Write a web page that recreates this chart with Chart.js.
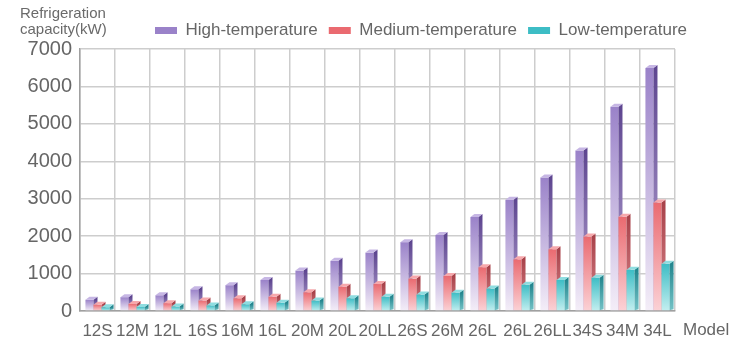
<!DOCTYPE html>
<html>
<head>
<meta charset="utf-8">
<script src="https://cdn.jsdelivr.net/npm/chart.js@4.4.0/dist/chart.umd.min.js"></script>
<style>
  html, body { margin: 0; padding: 0; background: #fff; }
  #wrap { width: 729px; height: 342px; }
</style>
</head>
<body>
<div id="wrap"><canvas id="mycanvas"></canvas></div>
<script>
// chart data
var models = ['12S', '12M', '12L', '16S', '16M', '16L', '20M', '20L', '20LL', '26S', '26M', '26L', '26L', '26LL', '34S', '34M', '34L'];
var highTemp = [300, 370, 420, 580, 690, 830, 1080, 1340, 1560, 1840, 2030, 2510, 2970, 3570, 4290, 5460, 6490];
var mediumTemp = [170, 190, 210, 280, 340, 380, 500, 650, 720, 865, 935, 1170, 1380, 1650, 1990, 2520, 2900];
var lowTemp = [100, 110, 120, 150, 180, 220, 280, 340, 380, 440, 490, 600, 700, 830, 890, 1100, 1260];
var seriesNames = ['High-temperature', 'Medium-temperature', 'Low-temperature'];

var topColors = ['#9a82c9', '#ea6a70', '#3dbdc5'];
var bottomColors = ['#f4eef8', '#fbd2d6', '#c4eff0'];
var sideTop = ['#5e4690', '#a8424a', '#23868e'];
var sideBottom = ['#b9a8d6', '#d9868c', '#74c2c6'];
var capColors = ['#c6b6e4', '#f6a8ac', '#8fdde0'];

var fontFamily = '"Liberation Sans", Arial, sans-serif';
Chart.defaults.font.family = fontFamily;

function frontFill(i) {
  return function(ctx) {
    var chart = ctx.chart;
    if (ctx.type !== 'data' || !chart.chartArea) return topColors[i];
    var y = chart.scales.y;
    var top = y.getPixelForValue(ctx.raw);
    var base = y.getPixelForValue(0);
    var g = chart.ctx.createLinearGradient(0, top, 0, base);
    g.addColorStop(0, topColors[i]);
    g.addColorStop(1, bottomColors[i]);
    return g;
  };
}

// draws the bars in index order with a small side face and top cap
var bars3d = {
  id: 'bars3d',
  beforeDatasetDraw: function() {
    return false;
  },
  afterDatasetsDraw: function(chart) {
    var ctx = chart.ctx;
    var area = chart.chartArea;
    var d = 4, dy = 3;
    ctx.save();
    for (var i = 0; i < chart.data.datasets.length; i++) {
      var meta = chart.getDatasetMeta(i);
      meta.data.forEach(function(bar) {
        var p = bar.getProps(['x', 'y', 'base', 'width'], true);
        var left = p.x - p.width / 2;
        var right = p.x + p.width / 2;
        bar.draw(ctx, area);

        var g = ctx.createLinearGradient(0, p.y, 0, p.base);
        g.addColorStop(0, sideTop[i]);
        g.addColorStop(1, sideBottom[i]);
        ctx.fillStyle = g;
        ctx.beginPath();
        ctx.moveTo(right, p.y);
        ctx.lineTo(right + d, p.y - dy);
        ctx.lineTo(right + d, p.base - 1);
        ctx.lineTo(right, p.base);
        ctx.closePath();
        ctx.fill();

        ctx.fillStyle = capColors[i];
        ctx.beginPath();
        ctx.moveTo(left, p.y);
        ctx.lineTo(left + d, p.y - dy);
        ctx.lineTo(right + d, p.y - dy);
        ctx.lineTo(right, p.y);
        ctx.closePath();
        ctx.fill();
      });
    }
    ctx.restore();
  }
};

var extraText = {
  id: 'extraText',
  afterLayout: function(chart) {
    var lg = chart.legend;
    if (lg && lg.lineWidths) {
      var w = lg.right - lg.left;
      lg.right = 155 + lg.lineWidths[0];
      lg.left = lg.right - w;
    }
  },
  afterDraw: function(chart) {
    var ctx = chart.ctx;
    ctx.save();
    ctx.fillStyle = '#6a6a6a';
    ctx.textBaseline = 'alphabetic';
    ctx.textAlign = 'left';
    ctx.font = '15px ' + fontFamily;
    ctx.fillText('Refrigeration', 20, 18);
    ctx.fillText('capacity(kW)', 20, 34);
    ctx.font = '17px ' + fontFamily;
    ctx.fillStyle = '#666';
    ctx.fillText('Model', 683, 335);
    ctx.restore();
  }
};

var datasets = [highTemp, mediumTemp, lowTemp].map(function(values, i) {
  return {
    label: seriesNames[i],
    data: values,
    backgroundColor: frontFill(i),
    borderWidth: 0,
    barPercentage: 1,
    categoryPercentage: 0.69
  };
});

var ctx = document.getElementById('mycanvas');
var barGraph = new Chart(ctx, {
  type: 'bar',
  data: {
    labels: models,
    datasets: datasets
  },
  options: {
    responsive: true,
    maintainAspectRatio: false,
    animation: false,
    layout: {
      padding: { top: 11, right: 54, left: 0, bottom: 0 }
    },
    plugins: {
      legend: {
        position: 'top',
        align: 'end',
        labels: {
          boxWidth: 22,
          boxHeight: 7,
          padding: 11,
          color: '#666',
          font: { size: 17 }
        }
      },
      tooltip: { enabled: false }
    },
    scales: {
      x: {
        grid: {
          offset: true,
          color: '#cdcdcd',
          lineWidth: 1.5,
          drawTicks: false
        },
        border: { color: '#a0a0a0', width: 1.5 },
        ticks: {
          color: '#666',
          padding: 10,
          maxRotation: 0,
          autoSkip: false,
          font: { size: 17 }
        },
        afterFit: function(scale) {
          scale.height = 31;
        }
      },
      y: {
        min: 0,
        max: 7000,
        grid: {
          color: '#cdcdcd',
          lineWidth: 1.5,
          drawTicks: false
        },
        border: { color: '#a0a0a0', width: 1.5 },
        ticks: {
          stepSize: 1000,
          color: '#666',
          padding: 8,
          font: { size: 20 },
          callback: function(value) {
            return String(value);
          }
        },
        afterFit: function(scale) {
          scale.width = 80;
        }
      }
    }
  },
  plugins: [bars3d, extraText]
});
</script>
</body>
</html>
